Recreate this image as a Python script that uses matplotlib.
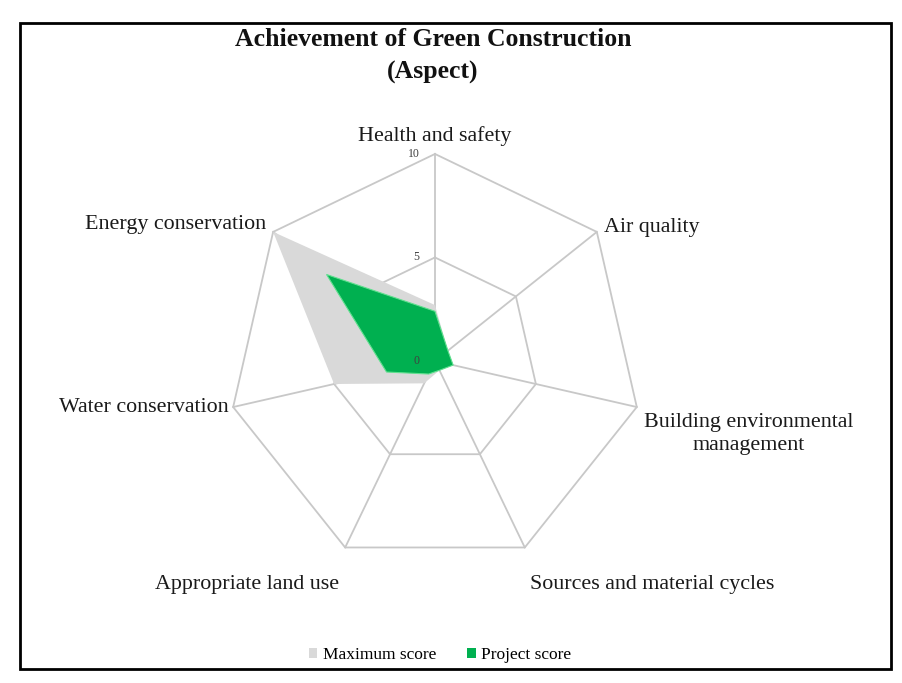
import numpy as np
import matplotlib
matplotlib.use("Agg")
import matplotlib.pyplot as plt
from matplotlib.patches import Patch, Rectangle

# Aspects, clockwise from the top
aspects = [
    "Health and safety",
    "Air quality",
    "Building environmental\nmanagement",
    "Sources and material cycles",
    "Appropriate land use",
    "Water conservation",
    "Energy conservation",
]
max_score = [2.7, 0.8, 0.9, 0.5, 1.2, 5.0, 10.0]
project_score = [2.4, 0.8, 0.9, 0.5, 0.7, 2.4, 6.7]
rings = [5, 10]
ring_labels = ["0", "5", "10"]

plt.rcParams["font.family"] = ["Liberation Serif", "DejaVu Serif"]

n = len(aspects)
theta = np.arange(n) * 2 * np.pi / n


def to_xy(vals):
    vals = np.asarray(vals, dtype=float)
    x = vals * np.sin(theta)
    y = vals * np.cos(theta)
    return np.append(x, x[0]), np.append(y, y[0])


fig = plt.figure(figsize=(9.03, 6.83), dpi=100)
ax = fig.add_axes([0.2066, 0.1078, 0.5502, 0.7274])
ax.set_xlim(-12, 12)
ax.set_ylim(-12, 12)
ax.set_aspect("equal")
ax.axis("off")

grid_col = "#c8c8c8"
# heptagon rings and spokes
for r in rings:
    gx, gy = to_xy([r] * n)
    ax.plot(gx, gy, color=grid_col, lw=1.3, zorder=1)
ox, oy = to_xy([rings[-1]] * n)
for k in range(n):
    ax.plot([0, ox[k]], [0, oy[k]], color=grid_col, lw=1.3, zorder=1)

# series
mx, my = to_xy(max_score)
ax.fill(mx, my, color="#d9d9d9", lw=0, zorder=2)
px, py = to_xy(project_score)
ax.fill(px, py, facecolor="#00b050", edgecolor="#5fe08e", lw=0.8, zorder=3)

# ring values on the top spoke
for val, lab in zip([0] + rings, ring_labels):
    ax.annotate(lab, xy=(0, val), xytext=(-11, 0), textcoords="offset points",
                ha="right", va="center", fontsize=8.5, color="#404040")

# category labels
offsets = [(0, 6), (5, 3), (5, -4), (4, -20), (-4, -20), (-3, 0), (-5, 5)]
aligns = [("center", "bottom"), ("left", "center"), ("left", "top"),
          ("left", "top"), ("right", "top"), ("right", "center"),
          ("right", "center")]
for k in range(n):
    ax.annotate(aspects[k], xy=(ox[k], oy[k]), xytext=offsets[k],
                textcoords="offset points", ha=aligns[k][0], va=aligns[k][1],
                fontsize=15.8, color="#1a1a1a", multialignment="center",
                linespacing=1.3)

fig.text(433 / 903, 1 - 56 / 683, "Achievement of Green Construction\n(Aspect)",
         ha="center", va="center", fontsize=18.5, fontweight="bold",
         linespacing=1.55, color="#111111")

handles = [Patch(facecolor="#d9d9d9", edgecolor="none", label="Maximum score"),
           Patch(facecolor="#00b050", edgecolor="none", label="Project score")]
fig.legend(handles=handles, loc="center", bbox_to_anchor=(440 / 903, 1 - 655 / 683),
           ncol=2, frameon=False, fontsize=12.5, handlelength=0.5, handleheight=0.5,
           handletextpad=0.3, columnspacing=1.8)

# outer frame
fig.patches.append(Rectangle((20 / 903, 1 - 669 / 683), 871 / 903, 646 / 683,
                             transform=fig.transFigure, fill=False,
                             edgecolor="black", lw=2))

fig.savefig("out.png", dpi=100)
